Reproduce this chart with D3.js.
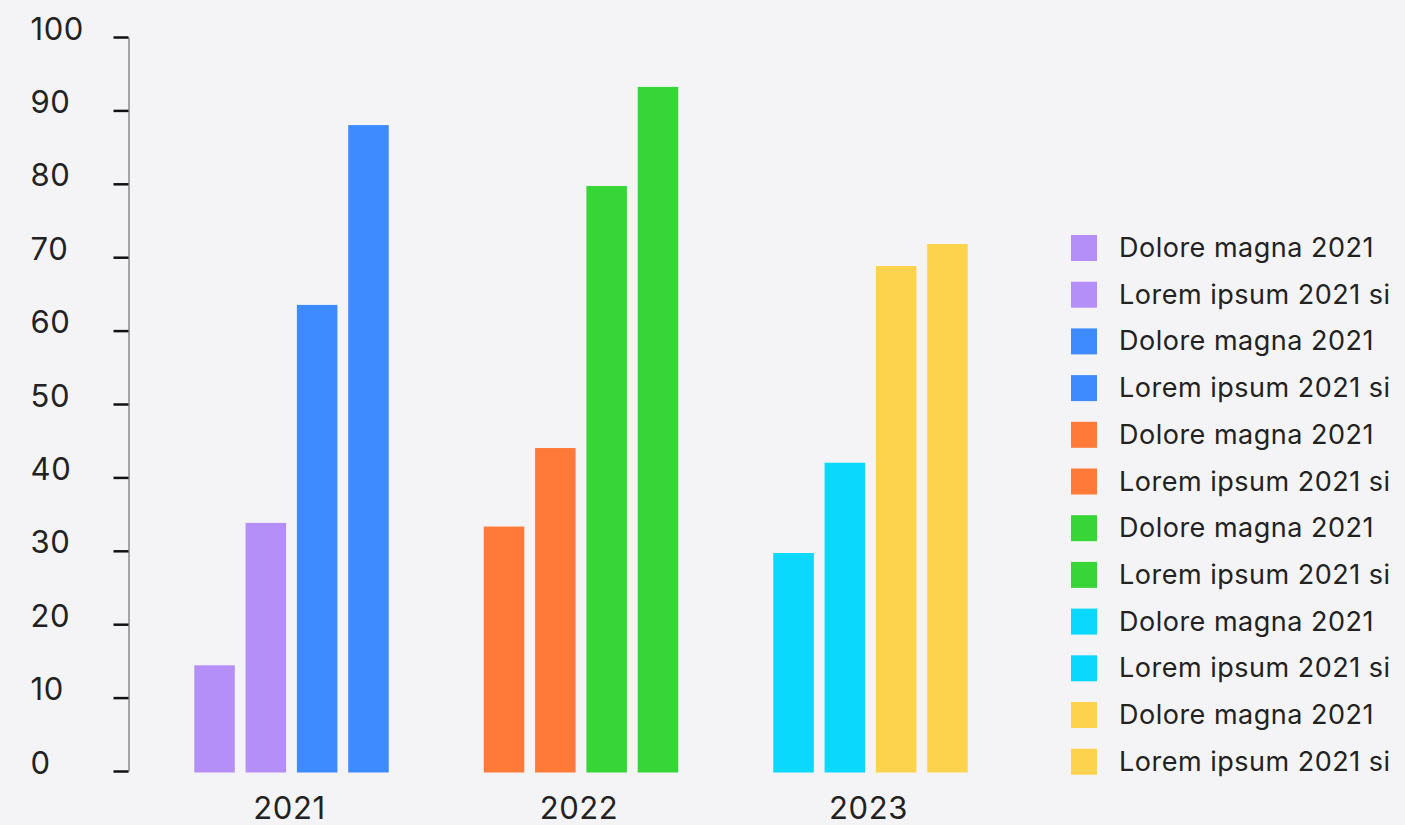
<!DOCTYPE html>
<html>
<head>
<meta charset="utf-8">
<script src="https://cdn.jsdelivr.net/npm/d3@7/dist/d3.min.js"></script>
<style>
  html, body { margin: 0; padding: 0; background: #f4f4f6; }
  svg { display: block; font-family: Inter, "Noto Sans", sans-serif; }
</style>
</head>
<body>
<svg id="chart" width="1405" height="825"></svg>
<script>
const categories = ["2021", "2022", "2023"];
const seriesNames = [
  "Dolore magna 2021", "Lorem ipsum 2021 si",
  "Dolore magna 2021", "Lorem ipsum 2021 si",
  "Dolore magna 2021", "Lorem ipsum 2021 si",
  "Dolore magna 2021", "Lorem ipsum 2021 si",
  "Dolore magna 2021", "Lorem ipsum 2021 si",
  "Dolore magna 2021", "Lorem ipsum 2021 si"
];
const seriesColors = [
  "#b48ff8", "#b48ff8", "#3d8bff", "#3d8bff",
  "#ff7a38", "#ff7a38", "#38d538", "#38d538",
  "#0ad8fc", "#0ad8fc", "#fdd34e", "#fdd34e"
];
const values2021 = [14.4, 33.8, 63.5, 88.0];
const values2022 = [33.3, 44.0, 79.7, 93.2];
const values2023 = [29.7, 42.0, 68.8, 71.8];
const yTicks = [0, 10, 20, 30, 40, 50, 60, 70, 80, 90, 100];

const groupValues = [values2021, values2022, values2023];
const bars = [];
categories.forEach((c, ci) => {
  groupValues[ci].forEach((v, i) => {
    const s = ci * 4 + i;
    bars.push({ category: c, slot: i, series: s, value: v });
  });
});

const svg = d3.select("#chart");

const x0 = d3.scaleBand().domain(categories).range([146.75, 1015.25]).padding(0);
const x1 = d3.scaleBand().domain([0, 1, 2, 3]).range([0, x0.bandwidth()])
  .paddingInner(0.21).paddingOuter(0.926);
const y = d3.scaleLinear().domain([0, 100]).range([771, 37]);

// bars
svg.append("g").selectAll("rect").data(bars).join("rect")
  .attr("x", d => x0(d.category) + x1(d.slot))
  .attr("y", d => y(d.value))
  .attr("width", x1.bandwidth())
  .attr("height", d => y(0) - y(d.value) + 1.5)
  .attr("fill", d => seriesColors[d.series]);

// y axis
const yAxis = d3.axisLeft(y).tickValues(yTicks).tickSize(15).tickSizeOuter(0);
const gy = svg.append("g").attr("transform", "translate(128.5,0)").call(yAxis);
gy.select(".domain").attr("stroke", "#8a8a8a").attr("stroke-width", 1.5);
gy.selectAll(".tick line").attr("stroke", "#111").attr("stroke-width", 2.5);
gy.selectAll(".tick text")
  .attr("x", -98)
  .attr("dy", "0.07em")
  .attr("text-anchor", "start")
  .attr("fill", "#222")
  .style("font-size", "31px")
  .style("letter-spacing", "0.6px")
  .style("font-family", "Inter, sans-serif");

// x axis labels
const xAxis = d3.axisBottom(x0).tickSize(0).tickPadding(0);
const gx = svg.append("g").attr("transform", "translate(-2,819)").call(xAxis);
gx.select(".domain").remove();
gx.selectAll(".tick text")
  .attr("dy", "0")
  .attr("fill", "#222")
  .style("font-size", "31px")
  .style("letter-spacing", "0.6px")
  .style("font-family", "Inter, sans-serif");

// legend
const legend = svg.append("g").attr("transform", "translate(1071,235)");
const items = legend.selectAll("g").data(seriesNames).join("g")
  .attr("transform", (d, i) => `translate(0,${i * 46.7})`);
items.append("rect").attr("width", 26).attr("height", 26)
  .attr("fill", (d, i) => seriesColors[i]);
items.append("text").attr("x", 48).attr("y", 22)
  .attr("fill", "#222")
  .style("font-size", "27px")
  .style("letter-spacing", "0.5px")
  .text(d => d);
</script>
</body>
</html>
